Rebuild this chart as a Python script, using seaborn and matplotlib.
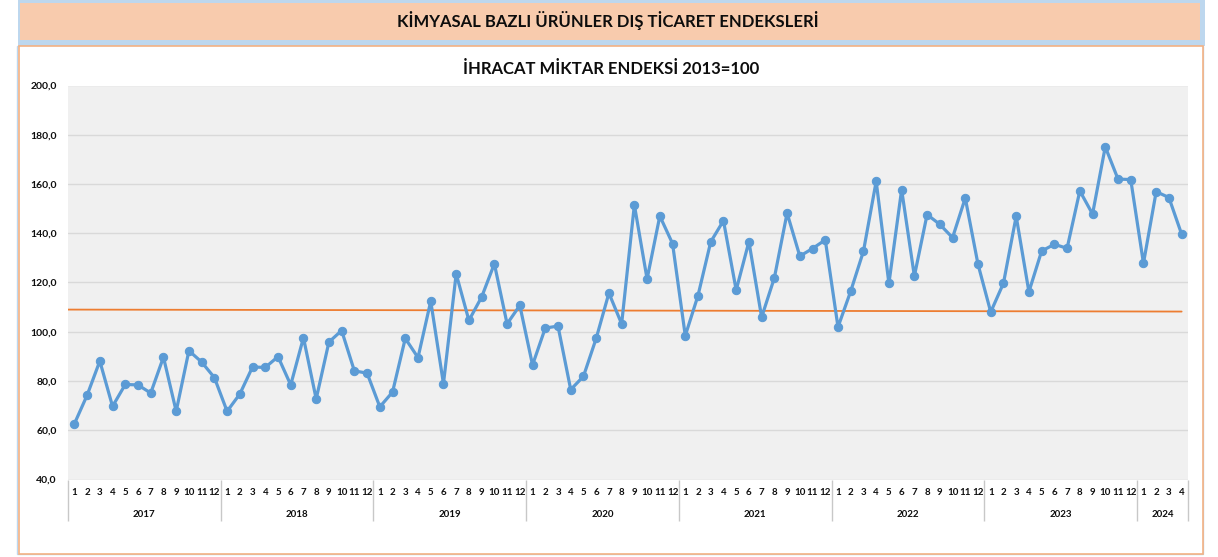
import pandas as pd
import matplotlib
matplotlib.use("Agg")
import matplotlib.pyplot as plt
import matplotlib.transforms as mtransforms
from matplotlib.patches import Rectangle
import seaborn as sns

# Data
YEARS = ["2017", "2018", "2019", "2020", "2021", "2022", "2023", "2024"]
MONTHS_PER_YEAR = [12, 12, 12, 12, 12, 12, 12, 4]

export_qty_index = [
    62.6, 74.2, 88.1, 69.7, 78.6, 78.4, 75.1, 89.7, 67.7, 92.3, 87.7, 81.4,      # 2017
    67.7, 74.7, 85.7, 85.5, 89.9, 78.4, 97.6, 72.7, 95.8, 100.5, 84.1, 83.2,     # 2018
    69.5, 75.5, 97.3, 89.5, 112.4, 78.9, 123.5, 104.6, 114.1, 127.6, 103.2, 110.7,  # 2019
    86.5, 101.5, 102.3, 76.5, 81.9, 97.3, 115.7, 103.2, 151.5, 121.4, 147.0, 135.8,  # 2020
    98.4, 114.7, 136.5, 145.1, 116.9, 136.6, 105.9, 121.9, 148.2, 130.7, 133.8, 137.3,  # 2021
    101.9, 116.5, 132.7, 161.1, 119.6, 157.7, 122.6, 147.6, 143.6, 138.2, 154.3, 127.4,  # 2022
    108.0, 119.7, 146.9, 116.2, 132.8, 135.5, 133.9, 157.2, 147.8, 175.1, 162.0, 161.8,  # 2023
    127.8, 156.9, 154.5, 139.6,                                                     # 2024
]

# orange reference line: value at first and last month
reference_line = [109.0, 108.2]

HEADER = "KİMYASAL BAZLI ÜRÜNLER DIŞ TİCARET ENDEKSLERİ"
TITLE = "İHRACAT MİKTAR ENDEKSİ 2013=100"

BLUE = "#5B9BD5"
ORANGE = "#ED7D31"
GRID = "#D9D9D9"
TEXT = "#0D0D0D"


def main():
    # long format table: one row per month
    rows = []
    for year, n in zip(YEARS, MONTHS_PER_YEAR):
        for m in range(1, n + 1):
            rows.append({"Year": year, "Month": m})
    df = pd.DataFrame(rows)
    df["Index"] = export_qty_index
    df["Pos"] = range(len(df))

    sns.set_theme(style="white")
    plt.rcParams["font.family"] = ["Lato", "DejaVu Sans"]
    plt.rcParams["font.weight"] = "bold"

    W, H = 1218, 557
    fig = plt.figure(figsize=(W / 100, H / 100), dpi=100)
    fig.patch.set_facecolor("white")

    # header band (blue frame + peach fill) and chart box
    def px_rect(x0, y0, x1, y1, **kw):
        fig.add_artist(Rectangle((x0 / W, 1 - y1 / H), (x1 - x0) / W, (y1 - y0) / H,
                                 transform=fig.transFigure, **kw))

    px_rect(18, 0, 1205, 46, facecolor="#BDD7EE", edgecolor="none", zorder=0)
    px_rect(20, 3, 1200, 40, facecolor="#F8CBAD", edgecolor="none", zorder=0)
    px_rect(17, 46, 1203, 554, facecolor="white", edgecolor="#BDD7EE", linewidth=1.0, zorder=0)
    px_rect(19, 46, 1203, 554, facecolor="white", edgecolor="#F4B183", linewidth=1.2, zorder=0)
    fig.text(608 / W, 1 - 21 / H, HEADER, ha="center", va="center",
             fontsize=12, fontweight="bold", color=TEXT)
    fig.text(611 / W, 1 - 69 / H, TITLE, ha="center", va="center",
             fontsize=12, fontweight="bold", color=TEXT)

    # plot area
    ax = fig.add_axes([68 / W, 77.5 / H, 1120 / W, 394 / H])
    ax.set_facecolor("#F0F0F0")

    sns.lineplot(data=df, x="Pos", y="Index", ax=ax, color=BLUE, linewidth=2.3,
                 marker="o", markersize=6, markeredgecolor=BLUE, zorder=3)
    ax.plot([df["Pos"].iloc[0] - 0.6, df["Pos"].iloc[-1]], reference_line,
            color=ORANGE, linewidth=1.3, zorder=2)

    ax.set_xlim(-0.5, len(df) - 0.5)
    ax.set_ylim(40, 200)
    ax.set_yticks(range(40, 201, 20))
    ax.set_yticklabels([f"{v},0" for v in range(40, 201, 20)])
    ax.yaxis.grid(True, color=GRID, linewidth=1)
    ax.xaxis.grid(False)
    for s in ax.spines.values():
        s.set_visible(False)

    # month ticks
    ax.set_xticks(df["Pos"])
    ax.set_xticklabels(df["Month"].astype(str))
    ax.tick_params(axis="x", which="major", length=0, pad=6, labelsize=7, colors=TEXT)
    ax.tick_params(axis="y", length=0, pad=8, labelsize=7.5, colors=TEXT)
    for lbl in ax.get_xticklabels() + ax.get_yticklabels():
        lbl.set_fontweight("bold")

    # year separators as long minor ticks
    bounds = [-0.5]
    for n in MONTHS_PER_YEAR:
        bounds.append(bounds[-1] + n)
    ax.set_xticks(bounds, minor=True)
    ax.tick_params(axis="x", which="minor", direction="out", length=29.5,
                   width=1, color="#C8C8C8", bottom=True)

    # year labels centred under each group
    trans = mtransforms.blended_transform_factory(ax.transData, ax.transAxes)
    for i, year in enumerate(YEARS):
        centre = (bounds[i] + bounds[i + 1]) / 2
        ax.text(centre, -0.09, year, transform=trans, ha="center", va="center",
                fontsize=7, fontweight="bold", color=TEXT)

    ax.set_xlabel("")
    ax.set_ylabel("")

    fig.savefig("out.png", dpi=100)
    plt.close(fig)


if __name__ == "__main__":
    main()
